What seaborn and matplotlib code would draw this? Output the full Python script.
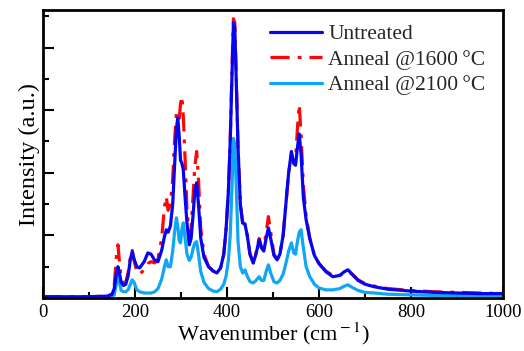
import numpy as np
import pandas as pd
import seaborn as sns
import matplotlib.pyplot as plt
from matplotlib.ticker import MultipleLocator, NullFormatter

wavenumber = [0, 100, 140, 150, 155, 160, 163, 166, 170, 175, 180, 185, 190, 194, 198,
              204, 210, 220, 228, 235, 243, 250, 258, 264, 268, 272, 277, 282, 286, 290,
              293, 296, 299, 302, 305, 309, 313, 318, 322, 326, 330, 334, 338, 343, 350,
              360, 370, 378, 386, 393, 398, 403, 407, 411, 414, 417, 420, 424, 429, 434,
              439, 444, 450, 457, 463, 470, 475, 480, 485, 490, 495, 502, 509, 515, 522,
              528, 534, 540, 545, 549, 553, 557, 561, 566, 572, 580, 590, 600, 615, 630,
              645, 655, 663, 672, 685, 700, 720, 750, 800, 850, 900, 950, 1000]

untreated = [0.02, 0.02, 0.03, 0.06, 0.15, 0.42, 0.50, 0.40, 0.25, 0.20, 0.22, 0.35, 0.62, 0.74, 0.62,
             0.50, 0.48, 0.58, 0.72, 0.70, 0.60, 0.58, 0.76, 0.98, 1.09, 1.05, 1.15, 1.50, 2.10, 2.70,
             2.88, 2.60, 2.20, 2.15, 2.05, 1.60, 1.20, 0.85, 0.95, 1.30, 1.70, 1.84, 1.50, 0.95, 0.65,
             0.50, 0.43, 0.40, 0.48, 0.70, 1.10, 1.70, 2.50, 3.60, 4.40, 4.30, 3.50, 2.40, 1.50, 1.20,
             1.18, 1.00, 0.70, 0.56, 0.70, 0.93, 0.80, 0.75, 0.95, 1.12, 0.95, 0.68, 0.61, 0.70, 1.00,
             1.50, 2.00, 2.34, 2.15, 2.12, 2.40, 2.62, 2.30, 1.60, 1.25, 0.95, 0.68, 0.55, 0.42, 0.34,
             0.36, 0.42, 0.45, 0.38, 0.28, 0.22, 0.18, 0.14, 0.11, 0.09, 0.08, 0.07, 0.07]

anneal_1600 = [0.02, 0.02, 0.03, 0.06, 0.20, 0.70, 0.85, 0.60, 0.30, 0.22, 0.25, 0.40, 0.65, 0.76, 0.60,
               0.42, 0.38, 0.45, 0.55, 0.58, 0.56, 0.62, 0.95, 1.45, 1.62, 1.40, 1.50, 1.90, 2.50, 2.95,
               2.90, 2.85, 3.10, 3.22, 2.90, 2.20, 1.40, 1.00, 1.10, 1.60, 2.10, 2.34, 1.90, 1.10, 0.70,
               0.50, 0.43, 0.40, 0.48, 0.70, 1.10, 1.70, 2.50, 3.70, 4.46, 4.40, 3.60, 2.40, 1.50, 1.20,
               1.18, 1.00, 0.70, 0.56, 0.72, 0.95, 0.80, 0.78, 1.05, 1.30, 1.05, 0.70, 0.62, 0.70, 1.00,
               1.50, 2.00, 2.30, 2.15, 2.20, 2.70, 3.09, 2.60, 1.80, 1.30, 0.95, 0.68, 0.55, 0.43, 0.36,
               0.36, 0.40, 0.42, 0.38, 0.29, 0.23, 0.19, 0.15, 0.12, 0.10, 0.09, 0.08, 0.07]

anneal_2100 = [0.00, 0.00, 0.00, 0.01, 0.05, 0.25, 0.34, 0.25, 0.12, 0.10, 0.10, 0.13, 0.22, 0.29, 0.25,
               0.13, 0.10, 0.08, 0.08, 0.08, 0.10, 0.15, 0.30, 0.50, 0.61, 0.50, 0.50, 0.75, 1.05, 1.28,
               1.15, 0.92, 0.88, 1.10, 1.20, 0.95, 0.70, 0.60, 0.65, 0.78, 0.88, 0.90, 0.70, 0.42, 0.25,
               0.15, 0.11, 0.10, 0.14, 0.22, 0.35, 0.60, 1.00, 1.80, 2.55, 2.45, 1.80, 0.90, 0.50, 0.40,
               0.45, 0.35, 0.26, 0.24, 0.28, 0.34, 0.28, 0.28, 0.42, 0.53, 0.40, 0.26, 0.24, 0.28, 0.38,
               0.55, 0.75, 0.88, 0.72, 0.70, 0.90, 1.05, 1.09, 0.80, 0.50, 0.34, 0.22, 0.16, 0.13, 0.13,
               0.15, 0.19, 0.21, 0.17, 0.12, 0.09, 0.08, 0.06, 0.05, 0.04, 0.04, 0.04, 0.04]

labels = ['Untreated', 'Anneal @1600\u2009°C', 'Anneal @2100\u2009°C']
colors = ['#0505f0', '#ff0505', '#0fa6f5']

sns.set_style("ticks")
plt.rcParams['font.family'] = ['Liberation Serif', 'DejaVu Serif']
plt.rcParams['mathtext.fontset'] = 'stix'

fig = plt.figure(figsize=(5.24, 3.51), dpi=100)
ax = fig.add_axes([0.082, 0.151, 0.878, 0.8205])

# blue drawn last so it sits on top of the red dash-dot, as in the original
order = [2, 1, 0]
series = [untreated, anneal_1600, anneal_2100]
styles = ['-', (0, (6, 2.5, 1.2, 2.5)), '-']
for i in order:
    df = pd.DataFrame({'x': wavenumber, 'y': series[i]})
    sns.lineplot(data=df, x='x', y='y', ax=ax, color=colors[i], lw=2.3,
                 linestyle=styles[i], label=labels[i], sort=False)

ax.set_xlim(0, 1000)
ax.set_ylim(0, 4.6)
ax.xaxis.set_major_locator(MultipleLocator(200))
ax.xaxis.set_minor_locator(MultipleLocator(100))
ax.yaxis.set_major_locator(MultipleLocator(1))
ax.yaxis.set_minor_locator(MultipleLocator(0.5))
ax.yaxis.set_major_formatter(NullFormatter())
ax.tick_params(which='both', direction='in', width=1.5, labelsize=13.5, pad=4,
               colors='black')
ax.tick_params(which='major', length=8)
ax.tick_params(which='minor', length=4.5)
for s in ax.spines.values():
    s.set_linewidth(2)
    s.set_color('black')

ax.set_xlabel('Wavenumber (cm$^{\\rm -1}$)', fontsize=16, labelpad=0, color='black')
ax.set_ylabel('Intensity (a.u.)', fontsize=17.5, labelpad=-2, color='black')

h, l = ax.get_legend_handles_labels()
h = h[::-1]
l = l[::-1]
ax.legend(h, l, loc='upper right', frameon=False, fontsize=15.5, handlelength=2.4,
          handletextpad=0.3, labelspacing=0.25, borderaxespad=0.2, bbox_to_anchor=(0.99, 0.995))

fig.savefig('out.png', dpi=100)
